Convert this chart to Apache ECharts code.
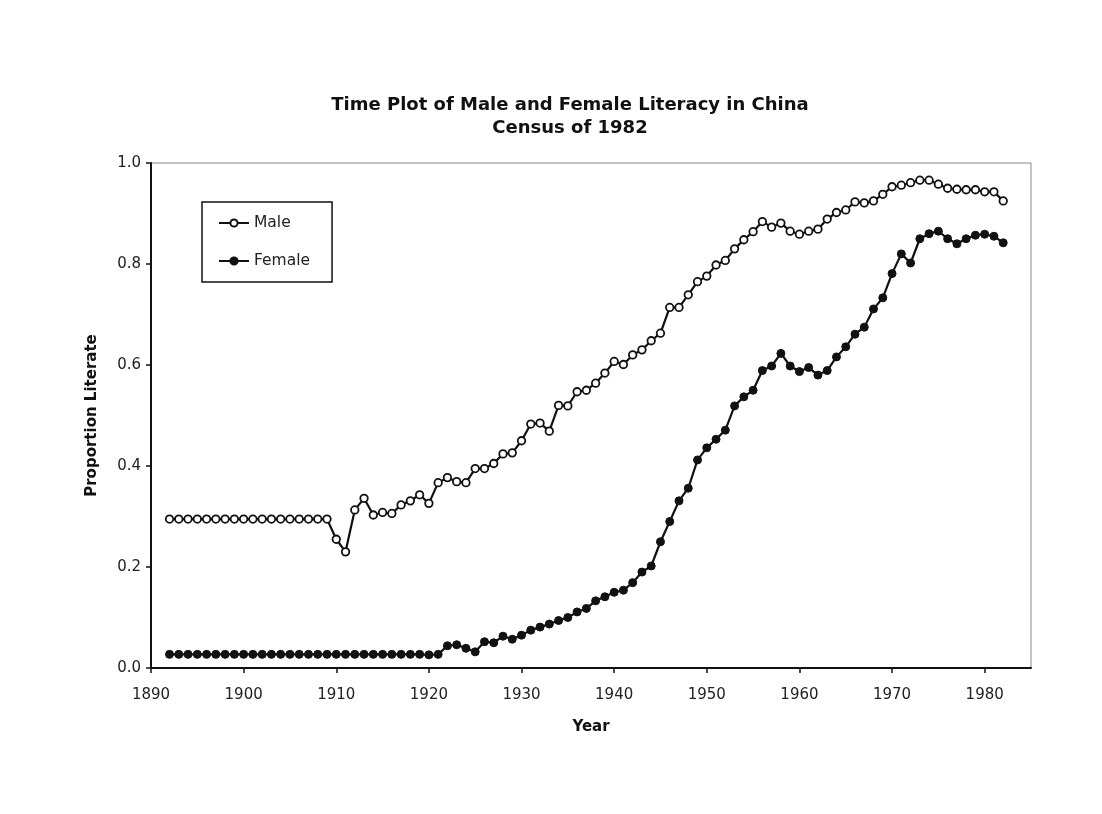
<!DOCTYPE html>
<html>
<head>
<meta charset="utf-8">
<script src="https://cdn.jsdelivr.net/npm/echarts@6/dist/echarts.min.js"></script>
<style>
html,body{margin:0;padding:0;background:#fff;}
#chart{width:1102px;height:814px;}
</style>
</head>
<body>
<div id="chart"></div>
<script>
const years = [];
for (let y = 1892; y <= 1982; y++) years.push(y);

const maleValues = [
  0.295,0.295,0.295,0.295,0.295,0.295,0.295,0.295,0.295,0.295, // 1892-1901
  0.295,0.295,0.295,0.295,0.295,0.295,0.295,0.295,             // 1902-1909
  0.255,0.230,0.313,0.336,0.303,0.308,0.306,0.323,0.331,0.343, // 1910-1919
  0.326,0.367,0.377,0.369,0.367,0.395,0.395,0.405,0.424,0.426, // 1920-1929
  0.450,0.483,0.485,0.469,0.520,0.519,0.547,0.550,0.564,0.584, // 1930-1939
  0.607,0.601,0.620,0.630,0.648,0.663,0.714,0.714,0.739,0.765, // 1940-1949
  0.776,0.798,0.807,0.830,0.848,0.864,0.884,0.873,0.881,0.865, // 1950-1959
  0.859,0.865,0.869,0.889,0.902,0.907,0.923,0.921,0.925,0.938, // 1960-1969
  0.953,0.956,0.961,0.966,0.966,0.958,0.950,0.948,0.947,0.947, // 1970-1979
  0.943,0.943,0.925                                            // 1980-1982
];

const femaleValues = [
  0.027,0.027,0.027,0.027,0.027,0.027,0.027,0.027,0.027,0.027, // 1892-1901
  0.027,0.027,0.027,0.027,0.027,0.027,0.027,0.027,             // 1902-1909
  0.027,0.027,0.027,0.027,0.027,0.027,0.027,0.027,0.027,0.027, // 1910-1919
  0.026,0.027,0.044,0.046,0.039,0.032,0.052,0.050,0.063,0.057, // 1920-1929
  0.065,0.075,0.081,0.087,0.094,0.100,0.111,0.118,0.133,0.141, // 1930-1939
  0.150,0.154,0.169,0.190,0.202,0.250,0.290,0.331,0.356,0.412, // 1940-1949
  0.436,0.453,0.471,0.519,0.537,0.550,0.589,0.598,0.623,0.598, // 1950-1959
  0.587,0.595,0.580,0.589,0.616,0.636,0.661,0.675,0.711,0.733, // 1960-1969
  0.781,0.820,0.802,0.850,0.860,0.865,0.850,0.840,0.850,0.857, // 1970-1979
  0.859,0.855,0.842                                            // 1980-1982
];

const xTicks = [1890,1900,1910,1920,1930,1940,1950,1960,1970,1980];
const yTicks = [0.0,0.2,0.4,0.6,0.8,1.0];

const titleLines = ['Time Plot of Male and Female Literacy in China', 'Census of 1982'];

const FONT = '"DejaVu Sans", Verdana, sans-serif';

const chart = echarts.init(document.getElementById('chart'), null, {renderer: 'canvas'});
chart.setOption({
  backgroundColor: '#ffffff',
  animation: false,
  title: {
    text: titleLines.join('\n'),
    left: 565, textAlign: 'center',
    top: 89,
    textStyle: {fontFamily: FONT, fontWeight: 'bold', fontSize: 18, lineHeight: 23, color: '#111'}
  },
  legend: {
    orient: 'vertical',
    left: 202, top: 202,
    padding: [13, 22, 13, 16],
    itemGap: 22,
    itemWidth: 30, itemHeight: 9,
    borderColor: '#111', borderWidth: 1.5,
    backgroundColor: '#fff',
    textStyle: {fontFamily: FONT, fontSize: 15.5, color: '#222'},
    data: ['Male', 'Female']
  },
  grid: {
    left: 151, right: 71, top: 163, bottom: 146,
    show: true, borderColor: '#888', borderWidth: 1,
    containLabel: false
  },
  xAxis: {
    type: 'value', min: 1890, max: 1985, interval: 10,
    name: 'Year', nameLocation: 'middle', nameGap: 52,
    nameTextStyle: {fontFamily: FONT, fontWeight: 'bold', fontSize: 15, color: '#111'},
    axisLine: {show: true, onZero: false, lineStyle: {color: '#111', width: 2}},
    axisTick: {show: true, inside: false, length: 5, lineStyle: {color: '#111', width: 1.5}, customValues: xTicks},
    axisLabel: {fontFamily: FONT, fontSize: 15, color: '#222', margin: 20, customValues: xTicks,
      formatter: v => String(v)},
    splitLine: {show: false}
  },
  yAxis: {
    type: 'value', min: 0, max: 1, interval: 0.2,
    name: 'Proportion Literate', nameLocation: 'middle', nameGap: 51, nameRotate: 90,
    nameTextStyle: {fontFamily: FONT, fontWeight: 'bold', fontSize: 15, color: '#111'},
    axisLine: {show: true, lineStyle: {color: '#111', width: 2}},
    axisTick: {show: true, inside: false, length: 5, lineStyle: {color: '#111', width: 1.5}},
    axisLabel: {fontFamily: FONT, fontSize: 15, color: '#222', margin: 10,
      formatter: v => v.toFixed(1)},
    splitLine: {show: false}
  },
  series: [
    {
      name: 'Male', type: 'line',
      data: years.map((y, i) => [y, maleValues[i]]),
      symbol: 'circle', symbolSize: 7.5, showAllSymbol: true,
      lineStyle: {color: '#111', width: 2.2},
      itemStyle: {color: '#fff', borderColor: '#111', borderWidth: 1.8},
      z: 3
    },
    {
      name: 'Female', type: 'line',
      data: years.map((y, i) => [y, femaleValues[i]]),
      symbol: 'circle', symbolSize: 8, showAllSymbol: true,
      lineStyle: {color: '#111', width: 2.2},
      itemStyle: {color: '#111', borderColor: '#111', borderWidth: 1},
      z: 3
    }
  ]
});
</script>
</body>
</html>
